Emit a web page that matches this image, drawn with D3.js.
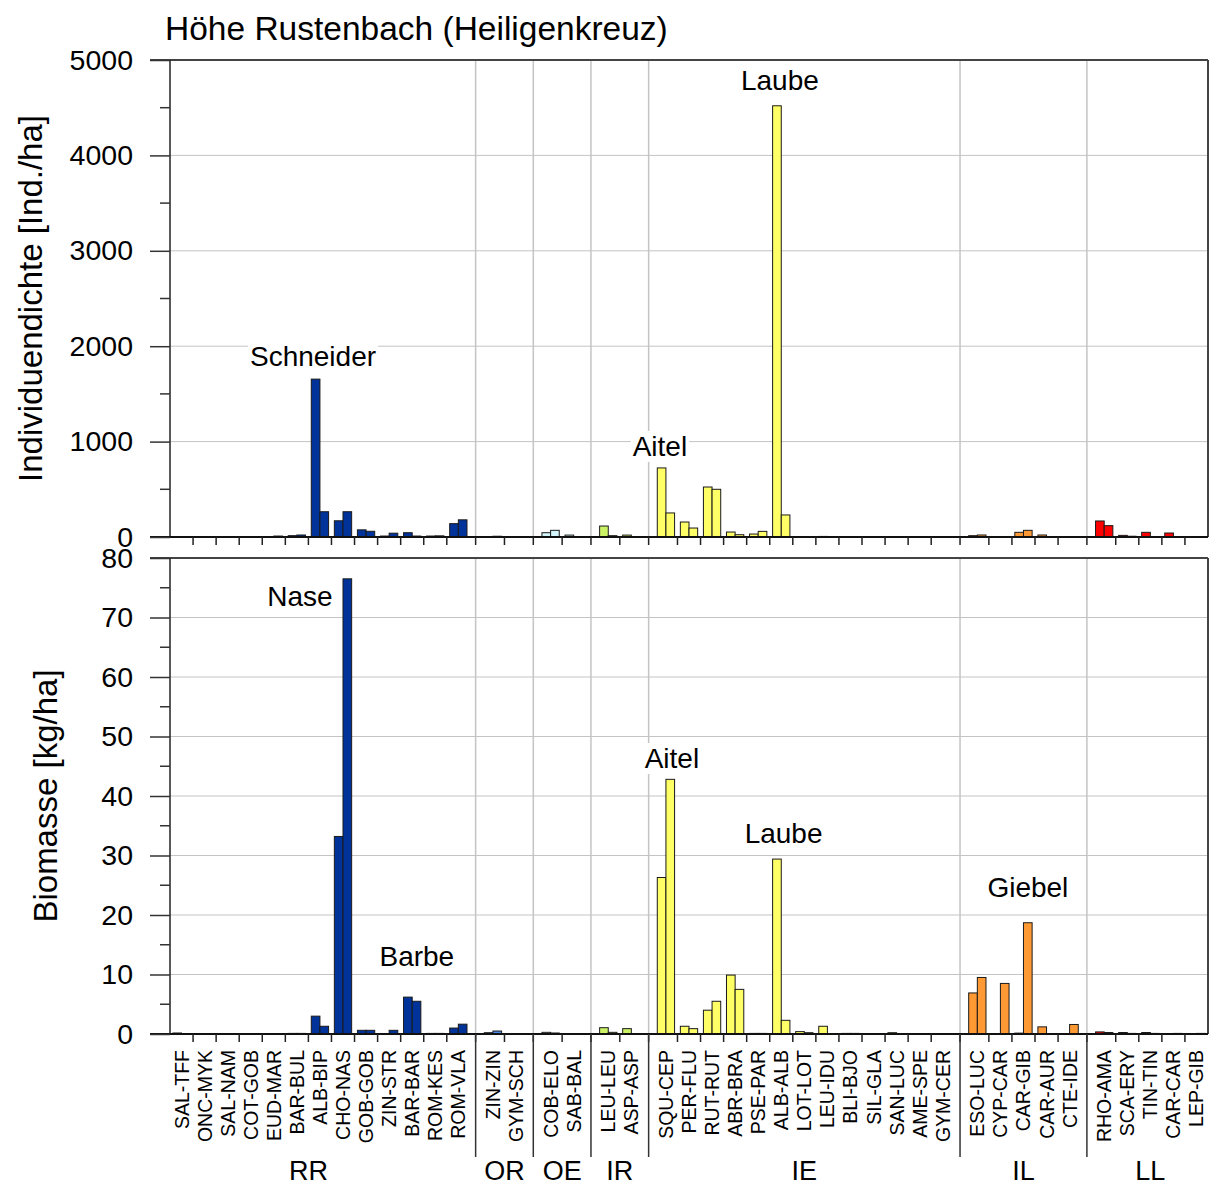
<!DOCTYPE html>
<html>
<head>
<meta charset="utf-8">
<script src="https://cdn.jsdelivr.net/npm/d3@7"></script>
<style>
  body { margin: 0; background: #fff; }
  text { font-family: "Liberation Sans", Arial, Helvetica, sans-serif; fill: #000; }
</style>
</head>
<body>
<svg id="chart"></svg>
<script>
// Fish survey: density (top) and biomass (bottom), two bars per species
const title = "Höhe Rustenbach (Heiligenkreuz)";

const groups = ["RR", "OR", "OE", "IR", "IE", "IL", "LL"];
const groupSpecies = [
    ["SAL-TFF", "ONC-MYK", "SAL-NAM", "COT-GOB", "EUD-MAR", "BAR-BUL", "ALB-BIP",
     "CHO-NAS", "GOB-GOB", "ZIN-STR", "BAR-BAR", "ROM-KES", "ROM-VLA"],
    ["ZIN-ZIN", "GYM-SCH"],
    ["COB-ELO", "SAB-BAL"],
    ["LEU-LEU", "ASP-ASP"],
    ["SQU-CEP", "PER-FLU", "RUT-RUT", "ABR-BRA", "PSE-PAR", "ALB-ALB", "LOT-LOT",
     "LEU-IDU", "BLI-BJO", "SIL-GLA", "SAN-LUC", "AME-SPE", "GYM-CER"],
    ["ESO-LUC", "CYP-CAR", "CAR-GIB", "CAR-AUR", "CTE-IDE"],
    ["RHO-AMA", "SCA-ERY", "TIN-TIN", "CAR-CAR", "LEP-GIB"],
];
const groupColors = ["#003399", "#4a8ae8", "#d2f6fb", "#ccf266", "#ffff66", "#ff9933", "#ff0000"];

// Individuendichte [Ind./ha], first and second bar per species
const densityA = [3, 2, 3, 2, 4, 14, 1655, 170, 75, 10, 45, 10, 140,
                  5, 2,
                  45, 20,
                  115, 20,
                  724, 157, 524, 52, 31, 4520, 5, 6, 3, 3, 3, 2, 2,
                  14, 2, 49, 21, 3,
                  168, 17, 49, 42, 2];
const densityB = [2, 2, 2, 2, 10, 21, 265, 265, 60, 40, 10, 12, 180,
                  8, 2,
                  70, 5,
                  14, 5,
                  252, 94, 500, 24, 59, 231, 3, 2, 3, 2, 3, 2, 5,
                  21, 2, 70, 3, 5,
                  119, 8, 3, 3, 2];

// Biomasse [kg/ha]
const biomassA = [0.17, 0.02, 0.05, 0.03, 0.05, 0.1, 3.0, 33.2, 0.62, 0.05, 6.2, 0.1, 1.0,
                  0.22, 0.05,
                  0.28, 0.05,
                  1.06, 0.9,
                  26.3, 1.3, 4.0, 9.9, 0.1, 29.4, 0.4, 1.3, 0.1, 0.05, 0.22, 0.05, 0.05,
                  6.9, 0, 0.15, 1.2, 0.02,
                  0.35, 0.25, 0.25, 0.05, 0.02];
const biomassB = [0.05, 0.02, 0.05, 0.03, 0.08, 0.1, 1.3, 76.5, 0.62, 0.62, 5.5, 0.1, 1.65,
                  0.5, 0.05,
                  0.17, 0.05,
                  0.28, 0.05,
                  42.8, 0.9, 5.5, 7.5, 0.1, 2.3, 0.22, 0.05, 0.1, 0.05, 0.05, 0.05, 0.05,
                  9.5, 8.5, 18.7, 0.05, 1.6,
                  0.25, 0.1, 0.1, 0.1, 0.1];

const densityTicks = [0, 1000, 2000, 3000, 4000, 5000];
const biomassTicks = [0, 10, 20, 30, 40, 50, 60, 70, 80];

// labelled species: panel, text, species, value where the label sits
const notes = [
    { panel: 0, text: "Schneider", species: "ALB-BIP", value: 1790, dx: -0.3 },
    { panel: 0, text: "Aitel", species: "SQU-CEP", value: 850, dx: -0.26 },
    { panel: 0, text: "Laube", species: "ALB-ALB", value: 4686, dx: -0.06 },
    { panel: 1, text: "Nase", species: "CHO-NAS", value: 71.9, dx: -1.87 },
    { panel: 1, text: "Barbe", species: "BAR-BAR", value: 11.4, dx: 0.2 },
    { panel: 1, text: "Aitel", species: "SQU-CEP", value: 44.7, dx: 0.26 },
    { panel: 1, text: "Laube", species: "ALB-ALB", value: 32.1, dx: 0.1 },
    { panel: 1, text: "Giebel", species: "CAR-GIB", value: 23.0, dx: 0.19 },
];

const width = 1213;
const height = 1186;
const left = 170;
const right = 1208;
const gridColor = "#c4c4c4";
const frameColor = "#444";

const svg = d3.select("#chart").attr("width", width).attr("height", height);

// species positions: 1 unit per species, extra half unit between groups
let species = [];
let dividers = [];
let groupCenters = [];
let cursor = 0;
groups.forEach((g, gi) => {
    if (gi > 0) {
        dividers.push(cursor + 0.25);
        cursor += 0.5;
    }
    const start = cursor;
    groupSpecies[gi].forEach((s) => {
        species.push({ name: s, group: gi, c: cursor + 0.5 });
        cursor += 1;
    });
    groupCenters.push((start + cursor) / 2);
});
const byName = {};
species.forEach((d, i) => { d.i = i; byName[d.name] = d; });

// tick marks between neighbours inside a group, plus at dividers
const boundaries = [];
species.forEach((d, i) => {
    if (i > 0 && species[i - 1].group === d.group) boundaries.push(d.c - 0.5);
});

const x = d3.scaleLinear().domain([0, cursor]).range([left, right]);
const half = 0.375;

const panels = [
    { top: 60, bottom: 537, ticks: densityTicks, minorStep: 500, a: densityA, b: densityB,
      label: "Individuendichte [Ind./ha]", labelX: 42 },
    { top: 558, bottom: 1034, ticks: biomassTicks, minorStep: 5, a: biomassA, b: biomassB,
      label: "Biomasse [kg/ha]", labelX: 57 },
];

svg.append("text")
    .attr("x", 165)
    .attr("y", 40)
    .attr("font-size", 33.5)
    .text(title);

panels.forEach((p, pi) => {
    const max = p.ticks[p.ticks.length - 1];
    const y = d3.scaleLinear().domain([0, max]).range([p.bottom, p.top]);
    const g = svg.append("g");

    // horizontal gridlines
    g.selectAll(".grid")
        .data(p.ticks.slice(1, -1))
        .enter()
        .append("line")
        .attr("x1", left).attr("x2", right)
        .attr("y1", (d) => y(d)).attr("y2", (d) => y(d))
        .attr("stroke", gridColor).attr("stroke-width", 1);

    // group dividers
    g.selectAll(".div")
        .data(dividers)
        .enter()
        .append("line")
        .attr("x1", (d) => x(d)).attr("x2", (d) => x(d))
        .attr("y1", p.top).attr("y2", p.bottom)
        .attr("stroke", gridColor).attr("stroke-width", 1.5);

    // bars
    const bars = [];
    species.forEach((s) => {
        bars.push({ x0: s.c - half, v: p.a[s.i], group: s.group });
        bars.push({ x0: s.c, v: p.b[s.i], group: s.group });
    });
    g.selectAll(".bar")
        .data(bars.filter((d) => d.v > 0))
        .enter()
        .append("rect")
        .attr("x", (d) => x(d.x0))
        .attr("width", (d) => x(d.x0 + half) - x(d.x0))
        .attr("y", (d) => y(d.v))
        .attr("height", (d) => y(0) - y(d.v))
        .attr("fill", (d) => groupColors[d.group])
        .attr("stroke", "#1a1a1a")
        .attr("stroke-width", 1);

    // annotations with white box
    notes.filter((n) => n.panel === pi).forEach((n) => {
        const ng = g.append("g");
        const t = ng.append("text")
            .attr("x", x(byName[n.species].c + n.dx))
            .attr("y", y(n.value))
            .attr("text-anchor", "middle")
            .attr("font-size", 28)
            .text(n.text);
        const bb = t.node().getBBox();
        ng.insert("rect", "text")
            .attr("x", bb.x - 2).attr("y", bb.y)
            .attr("width", bb.width + 4).attr("height", bb.height)
            .attr("fill", "#fff");
    });

    // frame
    g.append("line").attr("x1", 150).attr("x2", right).attr("y1", p.top).attr("y2", p.top)
        .attr("stroke", frameColor).attr("stroke-width", 2);
    g.append("line").attr("x1", right).attr("x2", right).attr("y1", p.top).attr("y2", p.bottom)
        .attr("stroke", frameColor).attr("stroke-width", 2);
    g.append("line").attr("x1", left).attr("x2", left).attr("y1", p.top).attr("y2", p.bottom)
        .attr("stroke", "#222").attr("stroke-width", 1.5);
    g.append("line").attr("x1", 150).attr("x2", right).attr("y1", p.bottom).attr("y2", p.bottom)
        .attr("stroke", "#111").attr("stroke-width", 2);

    // y axis, major ticks with labels
    const axis = d3.axisLeft(y).tickValues(p.ticks).tickSize(20).tickPadding(17).tickFormat(d3.format("d"));
    const ag = g.append("g").attr("transform", `translate(${left},0)`).call(axis);
    ag.select(".domain").remove();
    ag.selectAll(".tick line").attr("stroke", "#333").attr("stroke-width", 1.5);
    ag.selectAll(".tick text")
        .attr("font-size", 28.5)
        .attr("font-family", "Liberation Sans, Arial, sans-serif")
        .attr("fill", "#000");

    // minor ticks
    g.selectAll(".minor")
        .data(d3.range(p.minorStep, max, p.minorStep * 2))
        .enter()
        .append("line")
        .attr("x1", left - 10).attr("x2", left)
        .attr("y1", (d) => y(d)).attr("y2", (d) => y(d))
        .attr("stroke", "#333").attr("stroke-width", 1.5);

    // x tick marks under the baseline
    g.selectAll(".xtick")
        .data(boundaries.concat(dividers))
        .enter()
        .append("line")
        .attr("x1", (d) => x(d)).attr("x2", (d) => x(d))
        .attr("y1", p.bottom).attr("y2", p.bottom + 8)
        .attr("stroke", "#222").attr("stroke-width", 1.5);

    // axis title
    svg.append("text")
        .attr("transform", `translate(${p.labelX},${(p.top + p.bottom) / 2}) rotate(-90)`)
        .attr("text-anchor", "middle")
        .attr("font-size", 33)
        .text(p.label);
});

// species labels and group labels below the lower panel
const base = panels[1].bottom;
svg.selectAll(".sp")
    .data(species)
    .enter()
    .append("text")
    .attr("transform", (d) => `translate(${x(d.c)},${base + 16}) rotate(-90)`)
    .attr("text-anchor", "end")
    .attr("dy", "0.36em")
    .attr("font-size", 19.5)
    .text((d) => d.name);

svg.selectAll(".gdiv")
    .data(dividers)
    .enter()
    .append("line")
    .attr("x1", (d) => x(d)).attr("x2", (d) => x(d))
    .attr("y1", base).attr("y2", 1157)
    .attr("stroke", "#333").attr("stroke-width", 1.5);

svg.selectAll(".glab")
    .data(groups)
    .enter()
    .append("text")
    // first group label sits half a unit left of its centre in the original
    .attr("x", (d, i) => x(groupCenters[i] - (i === 0 ? 0.5 : 0)))
    .attr("y", 1180)
    .attr("text-anchor", "middle")
    .attr("font-size", 27)
    .text((d) => d);
</script>
</body>
</html>
